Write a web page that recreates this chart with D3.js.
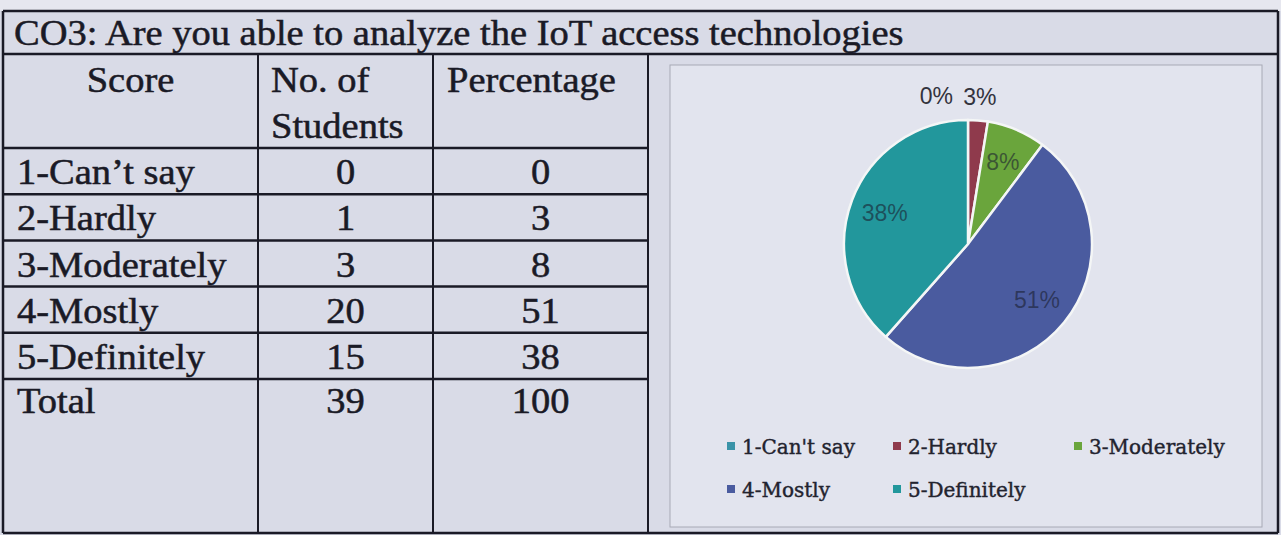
<!DOCTYPE html>
<html>
<head>
<meta charset="utf-8">
<script src="https://cdn.jsdelivr.net/npm/d3@7"></script>
<style>
  html, body { margin: 0; padding: 0; background: #dcdee9; }
  svg { display: block; }
</style>
</head>
<body>
<script>
        // table + pie data
        let title = "CO3: Are you able to analyze the IoT access technologies";
        let headers = ["Score", "No. of|Students", "Percentage"];
        let scores = ["1-Can\u2019t say", "2-Hardly", "3-Moderately", "4-Mostly", "5-Definitely"];
        let legendNames = ["1-Can't say", "2-Hardly", "3-Moderately", "4-Mostly", "5-Definitely"];
        let students = [0, 1, 3, 20, 15];
        let percentages = [0, 3, 8, 51, 38];
        let totals = ["Total", "39", "100"];
        let sliceColors = ["#3a93a8", "#8f3a4c", "#6aa53c", "#4a5b9f", "#22979c"];

        let W = 1281, H = 535;
        let svg = d3.select("body").append("svg")
            .attr("width", W)
            .attr("height", H);

        // paper
        svg.append("rect").attr("width", W).attr("height", H).attr("fill", "#d9dbe7");
        svg.append("rect").attr("width", W).attr("height", 11).attr("fill", "#e6e7ef");

        let ink = "#1a1a26";
        let stretch = 1.1; // the scan is wider than tall
        let fontSize = 35;

        function txt(x, y, s, anchor) {
            svg.append("text")
                .attr("transform", "translate(" + x + "," + y + ") scale(" + stretch + ",1)")
                .attr("text-anchor", anchor || "start")
                .attr("font-family", "'Liberation Serif', 'Times New Roman', serif")
                .attr("font-size", fontSize)
                .attr("fill", ink)
                .attr("stroke", ink)
                .attr("stroke-width", 0.5)
                .text(s);
        }

        //table geometry
        let tLeft = 3, tRight = 1278, tTop = 11, tBottom = 533;
        let titleBottom = 54, headBottom = 148;
        let colEdges = [tLeft, 258, 433, 648];
        let rowScale = d3.scaleBand().domain(scores).range([headBottom, 379]);

        // chart box
        svg.append("rect")
            .attr("x", 670).attr("y", 65)
            .attr("width", 592).attr("height", 462)
            .attr("fill", "#e2e4ee")
            .attr("stroke", "#a8aab6")
            .attr("stroke-width", 1);

        function hline(y, x1, x2, w) {
            svg.append("line").attr("x1", x1).attr("x2", x2).attr("y1", y).attr("y2", y)
                .attr("stroke", ink).attr("stroke-width", w || 2);
        }
        function vline(x, y1, y2, w) {
            svg.append("line").attr("x1", x).attr("x2", x).attr("y1", y1).attr("y2", y2)
                .attr("stroke", ink).attr("stroke-width", w || 2);
        }

        hline(tTop, tLeft, tRight, 2.5);
        hline(titleBottom, tLeft, tRight, 2.5);
        hline(tBottom, tLeft, tRight, 2.5);
        hline(headBottom, tLeft, colEdges[3], 2.5);
        scores.forEach(s => hline(rowScale(s) + rowScale.bandwidth(), tLeft, colEdges[3], 2.5));
        vline(tLeft, tTop, tBottom, 2.5);
        vline(tRight, tTop, tBottom, 2.5);
        for (var i = 1; i < colEdges.length; i++) {
            vline(colEdges[i], titleBottom, tBottom, 2);
        }

        // title
        txt(14, 45, title);

        // header
        let colCenter = i => (colEdges[i] + colEdges[i + 1]) / 2;
        txt(colCenter(0), 92, headers[0], "middle");
        headers[1].split("|").forEach((s, k) => txt(271, 92 + k * 46, s));
        txt(447, 92, headers[2]);

        // rows
        scores.forEach((s, i) => {
            let y = rowScale(s) + rowScale.bandwidth() - 10;
            txt(17, y, s);
            txt(colCenter(1), y, students[i], "middle");
            txt(colCenter(2), y, percentages[i], "middle");
        });
        txt(17, 413, totals[0]);
        txt(colCenter(1), 413, totals[1], "middle");
        txt(colCenter(2), 413, totals[2], "middle");

        //pie
        let cx = 968, cy = 244, R = 124;
        let color = d3.scaleOrdinal().domain(legendNames).range(sliceColors);
        let pie = d3.pie().sort(null).value(d => d.v);
        let pieData = pie(legendNames.map((n, i) => ({ name: n, v: students[i], pct: percentages[i] })));
        let arc = d3.arc().innerRadius(0).outerRadius(R);
        let inLabel = d3.arc().innerRadius(89).outerRadius(89);
        let outLabel = d3.arc().innerRadius(148).outerRadius(148);

        let g = svg.append("g").attr("transform", "translate(" + cx + "," + cy + ")");
        g.selectAll("path")
            .data(pieData)
            .join("path")
            .attr("d", arc)
            .attr("fill", d => color(d.data.name))
            .attr("stroke", "#f4f6f6")
            .attr("stroke-width", 2.5)
            .attr("stroke-linejoin", "round");

        pieData.forEach(d => {
            let small = d.data.pct < 5;
            let c = small ? outLabel.centroid(d) : inLabel.centroid(d);
            g.append("text")
                .attr("x", d.data.v === 0 ? c[0] - 15 : c[0])
                .attr("y", c[1])
                .attr("dy", "0.35em")
                .attr("text-anchor", d.data.v === 0 ? "end" : "middle")
                .attr("font-family", "'Liberation Sans', Arial, sans-serif")
                .attr("font-size", 23)
                .attr("fill", small ? "#33333d" : "#1a2030")
                .attr("fill-opacity", small ? 1 : 0.6)
                .text(d.data.pct + "%");
        });

        // legend
        let legX = [727, 893, 1074];
        let legY = [454, 497];
        legendNames.forEach((n, i) => {
            let x = legX[i % 3], y = legY[Math.floor(i / 3)];
            svg.append("rect")
                .attr("x", x).attr("y", y - 12)
                .attr("width", 8).attr("height", 8)
                .attr("fill", color(n));
            svg.append("text")
                .attr("x", x + 15).attr("y", y)
                .attr("font-family", "'DejaVu Serif', Cambria, serif")
                .attr("font-size", 20)
                .attr("fill", "#22232e")
                .attr("stroke", "#22232e")
                .attr("stroke-width", 0.4)
                .text(n);
        });
</script>
</body>
</html>
